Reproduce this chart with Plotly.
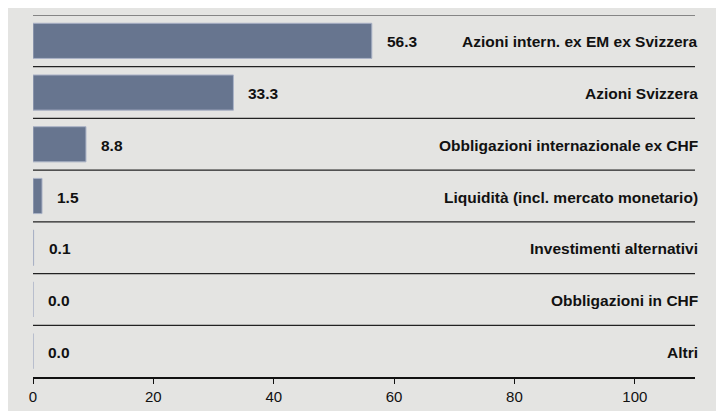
import plotly.graph_objects as go

categories = [
    "Azioni intern. ex EM ex Svizzera",
    "Azioni Svizzera",
    "Obbligazioni internazionale ex CHF",
    "Liquidità (incl. mercato monetario)",
    "Investimenti alternativi",
    "Obbligazioni in CHF",
    "Altri",
]
values = [56.3, 33.3, 8.8, 1.5, 0.1, 0.0, 0.0]
value_labels = ["56.3", "33.3", "8.8", "1.5", "0.1", "0.0", "0.0"]
tick_vals = [0, 20, 40, 60, 80, 100]

FONT = "Liberation Sans, Arial, sans-serif"
BG = "#e4e4e2"

fig = go.Figure(
    go.Bar(
        x=values,
        y=categories,
        orientation="h",
        width=0.68,
        marker=dict(color="#67758f", line=dict(color="#aab2c6", width=1)),
        hoverinfo="skip",
    )
)

annotations = []
for c, v, lab in zip(categories, values, value_labels):
    annotations.append(dict(
        x=v, y=c, xref="x", yref="y", text=f"<b>{lab}</b>", showarrow=False,
        xanchor="left", xshift=13, yshift=-1,
        font=dict(family=FONT, size=15.5, color="#111"),
    ))
    annotations.append(dict(
        x=1, y=c, xref="paper", yref="y", text=f"<b>{c}</b>", showarrow=False,
        xanchor="right", xshift=5, yshift=-1,
        font=dict(family=FONT, size=15.5, color="#111"),
    ))

shapes = [dict(type="line", xref="paper", yref="y", x0=0, x1=1, y0=-0.5, y1=-0.5,
               line=dict(color="#666", width=1.5))]
for i in range(len(categories) - 1):
    shapes.append(dict(type="line", xref="paper", yref="y", x0=0, x1=1,
                       y0=i + 0.5, y1=i + 0.5, line=dict(color="#222", width=1.2)))

fig.update_layout(
    width=724, height=411,
    margin=dict(l=25, r=37, t=7, b=42),
    paper_bgcolor=BG, plot_bgcolor=BG,
    showlegend=False,
    annotations=annotations,
    shapes=shapes,
    xaxis=dict(range=[0, 110], tickvals=tick_vals, showgrid=False, zeroline=False,
               showline=True, linecolor="#111", linewidth=1.5,
               ticks="outside", ticklen=5, tickcolor="#111", tickwidth=1.2,
               tickfont=dict(family=FONT, size=15, color="#111")),
    yaxis=dict(autorange=False, range=[6.5, -0.5], showticklabels=False,
               showgrid=False, zeroline=False, showline=False, ticks=""),
)

fig.write_html("out.html")
